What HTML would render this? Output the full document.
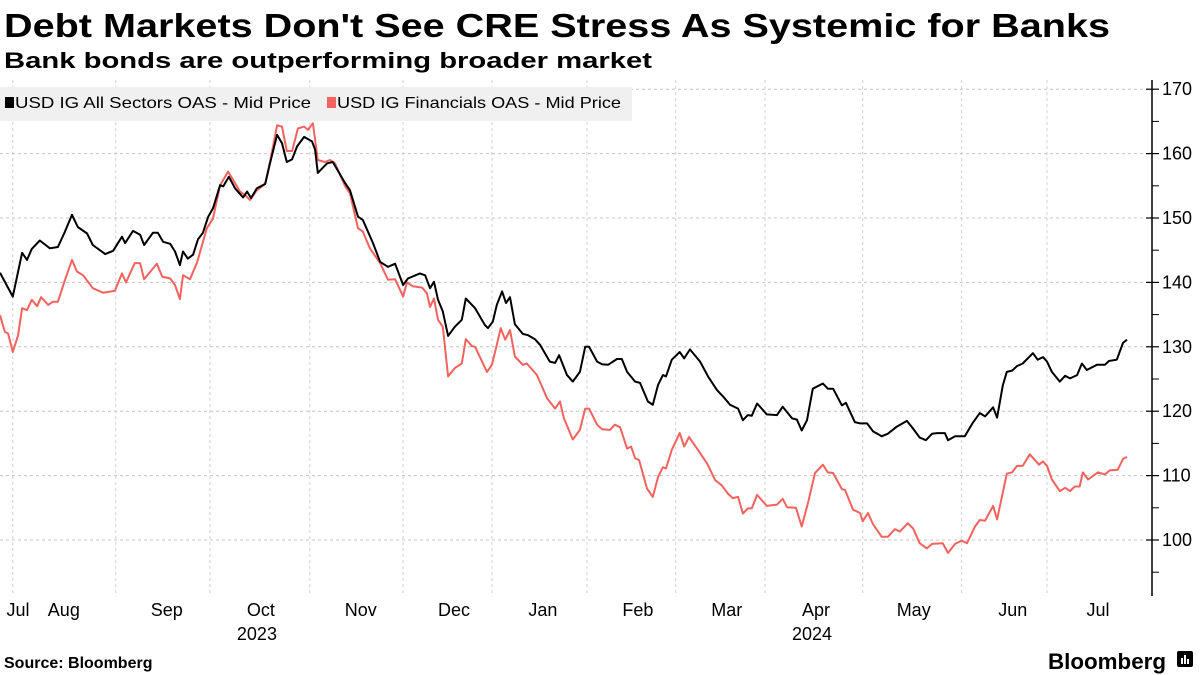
<!DOCTYPE html>
<html><head><meta charset="utf-8">
<style>
html,body{margin:0;padding:0;background:#fff;}
svg{display:block;font-family:"Liberation Sans",sans-serif;}
</style></head>
<body>
<svg id="chart" width="1200" height="675" viewBox="0 0 1200 675">
  <text x="4" y="37" font-size="33" font-weight="bold" fill="#000" textLength="1106" lengthAdjust="spacingAndGlyphs">Debt Markets Don't See CRE Stress As Systemic for Banks</text>
  <text x="4" y="68" font-size="22.5" font-weight="bold" fill="#000" textLength="648" lengthAdjust="spacingAndGlyphs">Bank bonds are outperforming broader market</text>
  <g id="grid"></g>
  <g id="yaxis"></g>
  <g id="xaxis"></g>
  <g id="series"></g>
  <g>
    <rect x="0" y="87" width="632" height="34" fill="#f0f0f0"/>
    <rect x="5" y="97" width="9" height="11" fill="#000"/>
    <text x="15" y="108" font-size="16" fill="#000" textLength="296" lengthAdjust="spacingAndGlyphs">USD IG All Sectors OAS - Mid Price</text>
    <rect x="327" y="97" width="9" height="11" fill="#f2625e"/>
    <text x="337" y="108" font-size="16" fill="#000" textLength="284" lengthAdjust="spacingAndGlyphs">USD IG Financials OAS - Mid Price</text>
  </g>
  <text x="4" y="668" font-size="16" font-weight="bold" fill="#000">Source: Bloomberg</text>
  <text x="1048" y="669" font-size="22" font-weight="bold" fill="#000" textLength="118" lengthAdjust="spacingAndGlyphs">Bloomberg</text>
  <g>
    <rect x="1177" y="651" width="16" height="16" rx="2" fill="#000"/>
    <rect x="1181" y="658" width="2" height="6" fill="#fff"/>
    <rect x="1184" y="655" width="2" height="9" fill="#fff"/>
    <rect x="1187" y="659" width="2" height="5" fill="#fff"/>
  </g>
</svg>
<script>
const allT = [0,2.9,5.0,6.1,7.2,9.0,11.3,13.1,14.7,16.3,17.6,19.7,21.0,23.8,25.6,27.6,28.3,30.1,31.7,32.6,34.6,35.7,36.9,38.5,39.6,40.7,41.4,42.5,43.7,44.8,45.9,47.1,48.2,49.8,50.5,51.8,53.2,55.0,55.9,56.8,58.1,60.0,61.1,62.7,63.8,64.9,66.1,67.2,68.8,70.6,71.3,71.9,74.0,75.3,78.1,79.2,81.0,82.1,84.4,86.0,87.8,89.4,91.2,92.3,95.0,96.2,97.3,98.2,99.1,100.2,101.4,102.9,104.5,105.4,107.5,109.7,110.4,111.5,112.4,113.6,114.5,115.4,116.5,118.3,119.5,121.0,122.2,124.4,125.6,126.5,128.3,129.6,131.2,132.4,133.3,135.1,136.2,137.6,139.6,140.7,141.9,143.7,144.8,146.6,147.7,148.9,150.0,150.7,152.0,153.8,154.8,156.1,158.4,160.2,162.2,163.6,165.2,167.0,168.1,169.2,170.1,171.3,173.5,175.8,177.1,179.2,180.3,181.4,182.6,183.9,186.2,187.3,188.5,190.5,191.4,193.4,194.6,196.2,197.5,199.5,200.9,202.9,205.2,206.6,208.1,209.5,210.9,212.0,213.8,214.5,216.1,218.3,220.1,221.7,222.9,224.7,225.6,226.9,227.8,229.0,230.1,231.4,233.7,234.8,236.0,236.9,238.0,239.8,241.0,242.1,243.7,244.8,245.9,248.2,250.0,250.9,252.7,254.1,255.0];
const allSectors = [141.5,137.8,144.6,143.5,145.2,146.5,145.3,145.5,147.9,150.5,148.6,147.6,145.8,144.4,144.9,147.1,146.1,148.0,147.4,145.8,147.7,147.7,146.3,146.0,144.8,142.7,144.8,143.7,144.3,146.7,147.7,150.2,151.5,155.1,154.9,156.4,154.6,153.2,154.1,153.1,154.6,155.3,158.5,162.9,161.6,158.7,159.1,161.1,162.6,161.9,160.6,157.0,158.5,158.7,155.4,154.3,150.2,149.7,146.1,143.2,142.4,142.9,139.6,140.6,141.4,141.1,139.1,140.1,137.3,135.5,131.7,133.1,134.2,137.5,136.0,133.4,132.9,133.9,136.5,138.6,136.8,137.7,133.5,132.0,131.8,131.2,130.3,127.7,127.5,128.7,125.6,124.6,126.1,130.0,130.0,127.7,127.3,127.2,128.1,128.1,126.1,124.6,124.4,121.5,121.0,124.1,125.6,125.4,128.0,129.2,128.2,129.6,127.7,125.4,123.3,122.3,121.0,120.4,118.6,119.4,119.3,121.2,119.5,119.4,120.7,118.9,118.7,117.0,118.6,123.5,124.3,123.5,123.5,120.9,121.3,118.3,118.1,118.1,116.9,116.1,116.5,117.6,118.5,117.3,115.9,115.5,116.5,116.6,116.6,115.5,116.1,116.1,118.2,119.7,119.2,120.6,119.0,124.0,126.1,126.3,127.0,127.4,129.0,128.0,128.4,127.7,126.1,124.6,125.5,125.1,125.6,127.4,126.4,127.2,127.2,127.8,128.0,130.6,131.1];
const finT = [0,1.1,1.8,2.9,4.1,5.0,6.1,7.2,8.4,9.3,10.9,12.0,13.1,14.7,16.3,17.4,18.8,21.0,23.3,26.0,27.6,28.5,30.5,31.7,32.6,35.5,36.7,38.5,39.6,40.7,41.4,43.0,44.6,46.8,48.2,49.8,51.6,53.2,54.3,55.4,56.6,58.1,60.0,61.1,62.7,63.8,64.9,66.1,67.4,68.8,69.7,70.8,71.9,73.5,74.7,75.8,78.1,79.2,81.0,82.1,83.7,86.0,87.8,89.4,91.2,92.1,93.4,95.5,96.6,97.3,98.2,99.1,100.2,101.4,102.9,104.5,105.4,106.8,107.5,110.2,111.3,112.4,113.3,114.3,115.4,116.5,118.3,119.2,121.5,123.8,125.6,126.7,127.6,129.6,131.2,132.4,133.3,135.1,136.2,138.0,139.1,140.3,141.9,142.8,143.7,144.6,146.4,147.7,148.9,150.0,150.7,152.0,153.8,154.8,155.9,157.7,160.0,161.8,163.3,164.7,165.8,167.0,168.1,169.2,170.1,171.3,173.5,175.8,177.1,178.1,180.1,181.4,182.8,184.4,186.2,187.3,188.5,190.5,191.2,193.0,194.6,195.2,196.4,197.5,199.5,200.9,202.5,203.6,205.4,206.6,208.1,209.7,210.9,213.3,214.5,216.1,217.6,218.8,220.6,221.7,222.9,224.7,225.6,227.8,229.0,230.1,231.4,233.0,235.1,236.0,236.9,238.0,239.8,241.0,242.1,243.2,244.3,245.0,246.2,248.4,250.0,251.1,252.9,254.1,255.0];
const financials = [134.9,132.3,132.1,129.2,131.8,136.0,135.7,137.3,136.3,137.7,136.5,137.0,137.0,140.4,143.5,141.7,141.1,139.1,138.4,138.7,141.4,140.0,143.0,143.0,140.5,142.9,140.9,140.6,139.6,137.4,141.1,140.5,143.1,148.4,149.9,155.1,157.2,155.4,154.1,153.6,152.8,154.3,155.3,158.7,164.4,164.2,160.4,160.4,163.9,164.2,163.7,164.7,159.0,158.7,159.0,158.5,154.9,153.8,148.4,147.9,145.3,143.0,140.4,140.5,137.8,140.0,139.4,139.2,138.3,136.2,137.5,134.2,133.1,125.4,126.7,127.4,131.2,130.1,130.0,126.1,127.2,130.3,132.9,131.1,132.6,128.5,127.2,127.4,125.6,122.0,120.4,121.5,118.9,115.6,117.1,120.4,120.4,117.9,117.2,117.1,117.9,117.5,114.2,114.5,112.7,112.4,108.0,106.7,109.8,111.3,111.1,114.0,116.6,114.5,116.0,114.2,111.9,109.3,108.5,107.2,106.5,106.7,104.1,104.9,104.9,107.0,105.3,105.5,106.4,105.1,105.0,102.1,105.7,110.4,111.7,110.5,110.4,107.9,107.8,104.7,104.2,102.9,104.2,102.5,100.5,100.5,101.7,101.3,102.6,101.8,99.5,98.7,99.4,99.5,98.0,99.4,99.9,99.5,102.1,103.1,103.0,105.3,103.2,110.3,110.5,111.5,111.5,113.3,111.7,112.2,111.5,109.4,107.6,108.1,107.6,108.3,108.3,110.5,109.4,110.5,110.2,110.8,110.9,112.6,112.9];
const yTicks = [100,110,120,130,140,150,160,170];
const yMinorTicks = [95,105,115,125,135,145,155,165];
const monthStarts = [2.9,26.2,47.5,70.1,91.2,111.3,132.8,152.9,173.1,195.2,217.6,236.9];
const monthLabels = ["Jul","Aug","Sep","Oct","Nov","Dec","Jan","Feb","Mar","Apr","May","Jun","Jul"];
const yearLabels = ["2023","2024"];
const yearLabelMonthIdx = [3,9];

const NS = "http://www.w3.org/2000/svg";
const plotLeft = 0, plotRight = 1127, tMax = 255;
const x = t => plotLeft + t * (plotRight - plotLeft) / tMax;
const y = v => 540 - (v - 100) * 6.44;
function mk(tag, attrs, parent){ const e=document.createElementNS(NS,tag); for(const k in attrs) e.setAttribute(k, attrs[k]); parent.appendChild(e); return e; }

const grid = document.getElementById('grid');
yTicks.forEach(v=>{
  const l = mk('line',{x1:0,x2:1150,y1:y(v),y2:y(v),stroke:'#c4c4c4','stroke-width':1,'stroke-dasharray':'3,3'},grid);
  
  
});
monthStarts.forEach((t,i)=>{
  const l = mk('line',{x1:x(t),x2:x(t),y1:80,y2:596,stroke:'#d0d0d0','stroke-width':1,'stroke-dasharray':'3,3'},grid);
  
  
});

const ya = document.getElementById('yaxis');
const axLine = mk('line',{x1:1152,x2:1152,y1:80,y2:596,stroke:'#000','stroke-width':1.5},ya);


yTicks.forEach(v=>{
  const tk = mk('line',{x1:1146,x2:1159,y1:y(v),y2:y(v),stroke:'#000','stroke-width':1.2},ya);
  
  
  const tx = mk('text',{x:1162,y:y(v)+6,'font-size':18,fill:'#000'},ya);
  tx.textContent = v;
  
  
});
yMinorTicks.forEach(v=>{
  const tk = mk('line',{x1:1152,x2:1159,y1:y(v),y2:y(v),stroke:'#000','stroke-width':1},ya);
  
  
});

const xa = document.getElementById('xaxis');
const labelX = i => i===0 ? 18 : x(monthStarts[i-1]) + 51;
monthLabels.forEach((m,i)=>{
  const tx = mk('text',{x:labelX(i),y:616,'font-size':18,fill:'#000','text-anchor':'middle'},xa);
  tx.textContent = m;
  
  
});
yearLabels.forEach((lbl,k)=>{
  const tx = mk('text',{x:labelX(yearLabelMonthIdx[k])-4,y:640,'font-size':18,fill:'#000','text-anchor':'middle'},xa);
  tx.textContent = lbl;
  
  
});

const sg = document.getElementById('series');
function line(ts, vs, color, name){
  const d = ts.map((t,i)=>(i?'L':'M')+x(t).toFixed(1)+','+y(vs[i]).toFixed(1)).join(' ');
  const p = mk('path',{d:d,fill:'none',stroke:color,'stroke-width':2,'stroke-linejoin':'round'},sg);
  
  
}
line(finT, financials, '#f2625e', 'financials-oas-line');
line(allT, allSectors, '#000000', 'all-sectors-oas-line');
</script>
</body></html>
